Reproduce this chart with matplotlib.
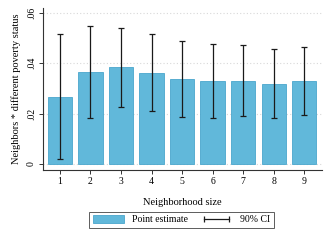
import numpy as np
import matplotlib
matplotlib.use('Agg')
import matplotlib.pyplot as plt
from matplotlib.patches import Patch
from matplotlib.lines import Line2D

plt.rcParams['font.family'] = ['Liberation Serif', 'DejaVu Serif']

# neighborhood size vs point estimate with 90% CI
sizes = [1, 2, 3, 4, 5, 6, 7, 8, 9]
estimate = [0.0266, 0.0366, 0.0384, 0.0363, 0.0338, 0.0329, 0.0329, 0.0319, 0.0329]
ci_low = [0.0019, 0.0182, 0.0226, 0.0212, 0.0185, 0.0184, 0.0189, 0.0184, 0.0196]
ci_high = [0.0516, 0.0549, 0.0542, 0.0516, 0.0490, 0.0477, 0.0472, 0.0456, 0.0463]
yticks = [0, 0.02, 0.04, 0.06]
ylabels = ['0', '.02', '.04', '.06']

fig = plt.figure(figsize=(3.3, 2.4), dpi=100)
ax = fig.add_axes([0.130, 0.292, 0.846, 0.675])

ax.bar(sizes, estimate, width=0.79, color='#61b8da', edgecolor='#4aa6cc', linewidth=0.6, zorder=2)
est = np.array(estimate)
err = [est - np.array(ci_low), np.array(ci_high) - est]
ax.errorbar(sizes, estimate, yerr=err, fmt='none', ecolor='#1a1a1a', elinewidth=0.9,
            capsize=2.5, capthick=0.9, zorder=3)

ax.set_xlim(0.44, 9.59)
ax.set_ylim(-0.0024, 0.062)
ax.set_xticks(sizes)
ax.set_yticks(yticks)
ax.set_yticklabels(ylabels, rotation=90, va='center')
ax.yaxis.grid(True, linestyle=(0, (1, 2)), color='#d8d8d8', linewidth=0.8, zorder=0)
ax.set_axisbelow(True)
for s in ['top', 'right']:
    ax.spines[s].set_visible(False)
for s in ['left', 'bottom']:
    ax.spines[s].set_color('#333333')
    ax.spines[s].set_linewidth(0.8)
ax.tick_params(labelsize=7, length=3, width=0.7, color='#333333', pad=2)
ax.set_xlabel('Neighborhood size', fontsize=7.5, labelpad=9)
ax.set_ylabel('Neighbors * different poverty status', fontsize=7.5, labelpad=4)

handles = [Patch(facecolor='#61b8da', edgecolor='#4aa6cc', linewidth=0.6),
           Line2D([0], [0], color='#1a1a1a', lw=0.9, marker='|', markersize=4, markeredgewidth=0.9)]
leg = fig.legend(handles, ['Point estimate', '90% CI'], loc='center', bbox_to_anchor=(0.55, 0.085),
                 ncol=2, fontsize=7, frameon=True, fancybox=False, edgecolor='#333333',
                 handlelength=3.2, handleheight=0.9, columnspacing=1.4, borderpad=0.35,
                 numpoints=2)
leg.get_frame().set_linewidth(0.7)

fig.savefig('out.png', dpi=100)
